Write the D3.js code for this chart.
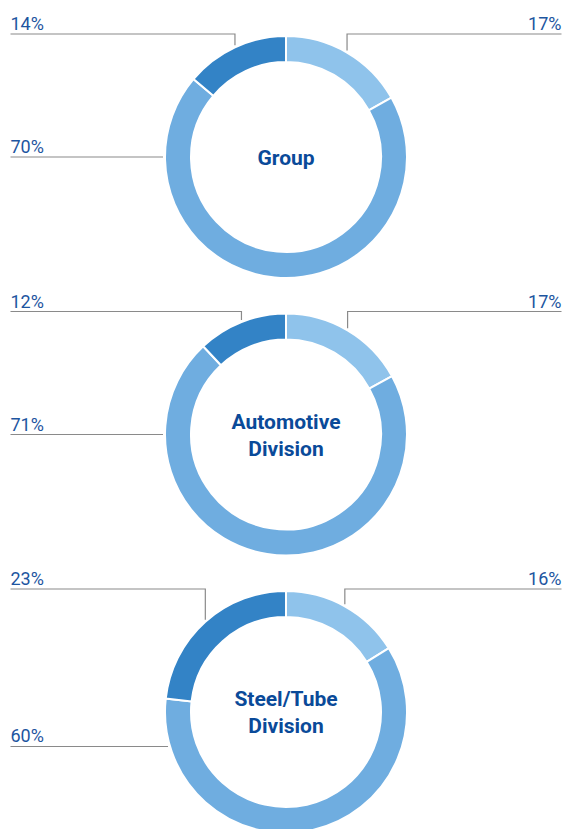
<!DOCTYPE html>
<html>
<head>
<meta charset="utf-8">
<script src="https://cdn.jsdelivr.net/npm/d3@7"></script>
<style>
  body { margin: 0; background: #fff; }
  svg { display: block; font-family: Roboto, "Noto Sans", sans-serif; }
</style>
</head>
<body>
<div id="chart"></div>
<script>
// shares per segment, clockwise from 12 o'clock
const titles = [["Group"], ["Automotive", "Division"], ["Steel/Tube", "Division"]];
const lightShare = [17, 17, 16];
const mediumShare = [70, 71, 60];
const darkShare = [14, 12, 23];

const colors = ["#8fc3eb", "#6fade0", "#3383c6"];

const width = 563, height = 829;
const outerR = 121, innerR = 95;
const cx = 286;
const rowY = d3.scalePoint().domain(d3.range(titles.length)).range([157, 712]);

const svg = d3.select("#chart").append("svg")
    .attr("width", width)
    .attr("height", height);

const pie = d3.pie().sort(null).value(d => d);
const arc = d3.arc().innerRadius(innerR).outerRadius(outerR);

const point = (a, r) => [r * Math.sin(a), -r * Math.cos(a)];

titles.forEach((title, i) => {
    let cy = rowY(i);
    let g = svg.append("g").attr("transform", "translate(" + cx + "," + cy + ")");
    let vals = [lightShare[i], mediumShare[i], darkShare[i]];
    let arcs = pie(vals);

    g.selectAll("path")
        .data(arcs)
        .enter().append("path")
        .attr("d", arc)
        .attr("fill", (d, j) => colors[j])
        .attr("stroke", "#fff")
        .attr("stroke-width", 2);

    // centre title
    let t = g.append("text")
        .attr("text-anchor", "middle")
        .attr("fill", "#0a4a99")
        .attr("font-weight", 700)
        .attr("font-size", 21);
    let lh = 27;
    title.forEach((line, k) => {
        t.append("tspan")
            .attr("x", 0)
            .attr("y", (k - (title.length - 1) / 2) * lh)
            .attr("dy", "0.36em")
            .text(line);
    });

    let topY = -outerR - 2;
    let lines = g.append("g")
        .attr("fill", "none")
        .attr("stroke", "#8a8a8a")
        .attr("stroke-width", 1.2);
    let labels = g.append("g")
        .attr("fill", "#1d55a0")
        .attr("font-size", 18)
        .attr("font-weight", 400);

    // light segment: label top right
    let a0 = (arcs[0].startAngle + arcs[0].endAngle) / 2;
    let p0 = point(a0, outerR);
    lines.append("path")
        .attr("d", d3.line()([[p0[0], p0[1] - 2], [p0[0], topY], [width - 1.5 - cx, topY]]));
    labels.append("text")
        .attr("x", width - 1.5 - cx)
        .attr("y", topY - 4)
        .attr("text-anchor", "end")
        .text(vals[0] + "%");

    // dark segment: label top left
    let a2 = (arcs[2].startAngle + arcs[2].endAngle) / 2;
    let p2 = point(a2, outerR);
    lines.append("path")
        .attr("d", d3.line()([[p2[0], p2[1] - 2], [p2[0], topY], [10.5 - cx, topY]]));
    labels.append("text")
        .attr("x", 10.5 - cx)
        .attr("y", topY - 4)
        .text(vals[2] + "%");

    // medium segment: label on the left, kept clear of the dark segment
    let a1 = Math.min(1.5 * Math.PI, arcs[1].endAngle - 0.4);
    let p1 = point(a1, outerR);
    lines.append("path")
        .attr("d", d3.line()([[p1[0] - 2, p1[1]], [10.5 - cx, p1[1]]]));
    labels.append("text")
        .attr("x", 10.5 - cx)
        .attr("y", p1[1] - 4)
        .text(vals[1] + "%");
});
</script>
</body>
</html>
